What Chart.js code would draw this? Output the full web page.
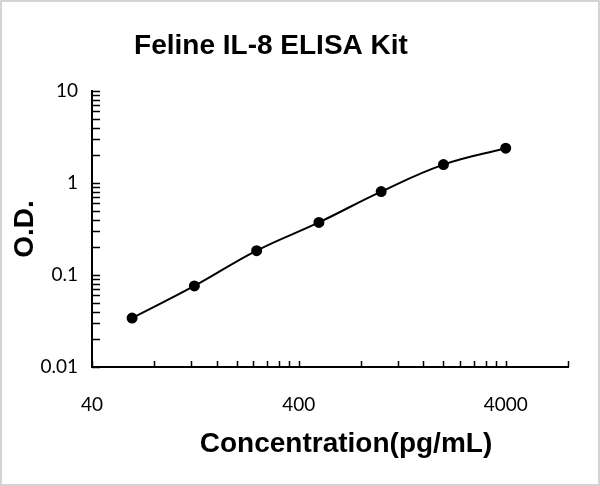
<!DOCTYPE html>
<html>
<head>
<meta charset="utf-8">
<script src="https://cdn.jsdelivr.net/npm/chart.js@4"></script>
<style>
  html, body { margin: 0; padding: 0; background: #fff; }
  #wrap { width: 600px; height: 486px; }
</style>
</head>
<body>
<div id="wrap"><canvas id="chart" width="600" height="486"></canvas></div>
<script>
// standard curve points
const concentrations = [62.5, 125, 250, 500, 1000, 2000, 4000];
const odValues = [0.034, 0.076, 0.184, 0.373, 0.806, 1.585, 2.39];

// tick marks (Excel-style log axis, minor ticks at multiples of the base)
const xTickValues = [40, 80, 120, 160, 200, 240, 280, 320, 360,
  400, 800, 1200, 1600, 2000, 2400, 2800, 3200, 3600, 4000, 8000];
const xTickLabels = [40, 400, 4000];
const yTickValues = [0.01, 0.02, 0.03, 0.04, 0.05, 0.06, 0.07, 0.08, 0.09,
  0.1, 0.2, 0.3, 0.4, 0.5, 0.6, 0.7, 0.8, 0.9,
  1, 2, 3, 4, 5, 6, 7, 8, 9, 10];
const yTickLabels = [0.01, 0.1, 1, 10];

const chartTitle = 'Feline IL-8 ELISA Kit';
const xTitle = 'Concentration(pg/mL)';
const yTitle = 'O.D.';

const tickFont = { family: 'Lato', size: 19 };

// draws frame, titles and the inward tick marks
const decorations = {
  id: 'decorations',
  beforeDraw(chart) {
    const ctx = chart.ctx;
    ctx.save();
    ctx.fillStyle = '#fff';
    ctx.fillRect(0, 0, chart.width, chart.height);
    ctx.strokeStyle = '#d4d4d4';
    ctx.lineWidth = 2;
    ctx.strokeRect(1, 1, chart.width - 2, chart.height - 2);
    ctx.restore();
  },
  afterDraw(chart) {
    const ctx = chart.ctx;
    const xs = chart.scales.x, ys = chart.scales.y;
    const area = chart.chartArea;
    ctx.save();
    ctx.strokeStyle = '#000';
    ctx.lineWidth = 1.5;
    ctx.beginPath();
    xs.ticks.forEach(t => {
      const px = Math.round(xs.getPixelForValue(t.value)) + 0.5;
      ctx.moveTo(px, area.bottom);
      ctx.lineTo(px, area.bottom - 6);
    });
    ys.ticks.forEach(t => {
      const py = Math.round(ys.getPixelForValue(t.value)) + 0.5;
      ctx.moveTo(area.left, py);
      ctx.lineTo(area.left + 8, py);
    });
    ctx.stroke();

    ctx.fillStyle = '#000';
    ctx.font = 'bold 28px "Liberation Sans", Arial, sans-serif';
    ctx.textAlign = 'center';
    ctx.textBaseline = 'alphabetic';
    ctx.fillText(chartTitle, 271, 54);
    ctx.fillText(xTitle, 346, 452);
    ctx.translate(33, (area.top + area.bottom) / 2);
    ctx.rotate(-Math.PI / 2);
    ctx.fillText(yTitle, 0, 0);
    ctx.restore();
  }
};

new Chart(document.getElementById('chart'), {
  type: 'scatter',
  data: {
    datasets: [{
      label: 'Standard curve',
      data: concentrations.map((c, i) => ({ x: c, y: odValues[i] })),
      showLine: true,
      borderColor: '#000',
      borderWidth: 2,
      backgroundColor: '#000',
      pointRadius: 4.5,
      pointHoverRadius: 4.5,
      tension: 0.4
    }]
  },
  options: {
    responsive: false,
    animation: false,
    devicePixelRatio: 1,
    layout: { padding: { left: 0, right: 32, top: 91, bottom: 0 } },
    plugins: {
      legend: { display: false },
      tooltip: { enabled: false }
    },
    scales: {
      x: {
        type: 'logarithmic',
        min: 40,
        max: 8000,
        afterBuildTicks: s => { s.ticks = xTickValues.map(v => ({ value: v })); },
        afterFit: s => { s.height = 119; },
        grid: { display: true, drawOnChartArea: false, drawTicks: false },
        border: { display: true, color: '#000', width: 2 },
        ticks: {
          autoSkip: false,
          maxRotation: 0,
          padding: 26,
          color: '#000',
          font: tickFont,
          callback: v => xTickLabels.includes(v) ? String(v) : ''
        }
      },
      y: {
        type: 'logarithmic',
        min: 0.01,
        max: 10,
        afterBuildTicks: s => { s.ticks = yTickValues.map(v => ({ value: v })); },
        afterFit: s => { s.width = 92; },
        grid: { display: true, drawOnChartArea: false, drawTicks: false },
        border: { display: true, color: '#000', width: 2 },
        ticks: {
          autoSkip: false,
          padding: 14,
          color: '#000',
          font: tickFont,
          callback: v => yTickLabels.includes(v) ? String(v) : ''
        }
      }
    }
  },
  plugins: [decorations]
});
</script>
</body>
</html>
